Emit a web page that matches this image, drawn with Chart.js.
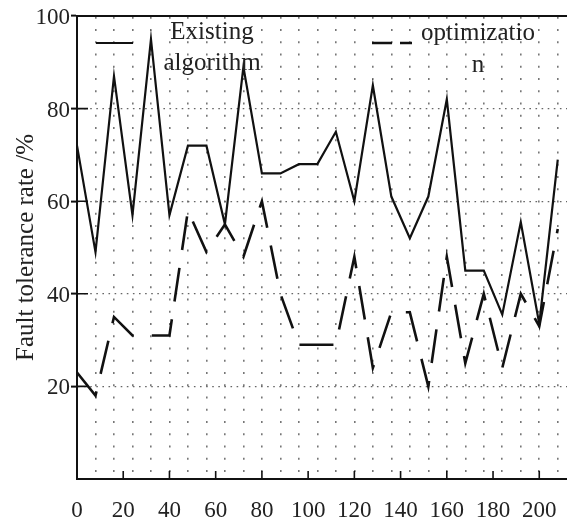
<!DOCTYPE html>
<html>
<head>
<meta charset="utf-8">
<script src="https://cdn.jsdelivr.net/npm/chart.js@4.4.1/dist/chart.umd.min.js"></script>
<style>
  html, body { margin: 0; padding: 0; background: #fff; }
  #chart { display: block; }
</style>
</head>
<body>
<canvas id="chart" width="567" height="521"></canvas>
<script>
// Valores
const xValues = [0, 8, 16, 24, 32, 40, 48, 56, 64, 72, 80, 88, 96, 104, 112, 120, 128, 136, 144, 152, 160, 168, 176, 184, 192, 200, 208];
const existingAlgorithm = [72, 49, 87, 57, 95, 57, 72, 72, 55, 89, 66, 66, 68, 68, 75, 60, 85, 61, 52, 61, 82, 45, 45, 35.5, 55.5, 33.5, 69];
const optimization = [23, 18, 35, 31, 31, 31, 58, 49, 55, 48, 60, 40, 29, 29, 29, 48, 24, 36, 36, 20, 48, 25, 40, 24, 40, 33, 54];
const xTickValues = [0, 20, 40, 60, 80, 100, 120, 140, 160, 180, 200];
const yTickValues = [0, 20, 40, 60, 80, 100];
const seriesNames = [['Existing', 'algorithm'], ['optimizatio', 'n']];
const yTitle = 'Fault tolerance rate /%';

const FONT = '"Liberation Serif", "Times New Roman", serif';
const INK = '#111';

function toPoints(values) {
    return xValues.map((x, i) => ({ x: x, y: values[i] }));
}

// Marco superior, marcas interiores y leyenda dibujada a mano
const frameAndLegend = {
    id: 'frameAndLegend',
    afterDraw(chart) {
        const ctx = chart.ctx;
        const area = chart.chartArea;
        const xs = chart.scales.x;
        const ys = chart.scales.y;
        ctx.save();
        ctx.strokeStyle = INK;
        ctx.lineWidth = 2;
        ctx.beginPath();
        ctx.moveTo(area.left - 1, area.top);
        ctx.lineTo(area.right, area.top);
        ctx.stroke();

        ctx.lineWidth = 1.6;
        ctx.beginPath();
        xTickValues.forEach(v => {
            if (v === 0) return;
            const px = xs.getPixelForValue(v);
            ctx.moveTo(px, area.bottom);
            ctx.lineTo(px, area.bottom - 8);
        });
        yTickValues.forEach(v => {
            if (v === 0 || v === 100) return;
            const py = ys.getPixelForValue(v);
            ctx.moveTo(area.left, py);
            ctx.lineTo(area.left + 11, py);
        });
        ctx.stroke();

        // leyenda
        ctx.lineWidth = 2.2;
        ctx.beginPath();
        ctx.moveTo(96, 43);
        ctx.lineTo(133, 43);
        ctx.stroke();

        ctx.lineWidth = 2.6;
        ctx.setLineDash([20, 8]);
        ctx.beginPath();
        ctx.moveTo(372, 43);
        ctx.lineTo(412, 43);
        ctx.stroke();
        ctx.setLineDash([]);

        ctx.fillStyle = '#222';
        ctx.font = '25px ' + FONT;
        ctx.textAlign = 'center';
        ctx.textBaseline = 'alphabetic';
        ctx.fillText(seriesNames[0][0], 212, 39);
        ctx.fillText(seriesNames[0][1], 212, 70);
        ctx.fillText(seriesNames[1][0], 478, 40);
        ctx.fillText(seriesNames[1][1], 478, 72);
        ctx.restore();
    }
};

// El área del gráfico llega hasta el borde derecho
function fixHorizontal(height) {
    return s => {
        s.height = height;
        s.paddingLeft = 0;
        s.paddingRight = 0;
    };
}

const chart = new Chart(document.getElementById('chart'), {
    type: 'line',
    data: {
        datasets: [
            {
                label: seriesNames[0].join(' '),
                data: toPoints(existingAlgorithm),
                borderColor: INK,
                borderWidth: 2.2,
                pointRadius: 0,
                tension: 0,
                fill: false
            },
            {
                label: seriesNames[1].join(''),
                data: toPoints(optimization),
                borderColor: INK,
                borderWidth: 2.6,
                borderDash: [34, 18],
                pointRadius: 0,
                tension: 0,
                fill: false
            }
        ]
    },
    options: {
        responsive: false,
        animation: false,
        devicePixelRatio: 1,
        layout: { padding: { top: 16, left: 0, right: 0, bottom: 0 } },
        plugins: {
            legend: { display: false },
            tooltip: { enabled: false }
        },
        scales: {
            x: {
                type: 'linear',
                position: 'bottom',
                min: 0,
                max: 212,
                afterFit: fixHorizontal(42),
                ticks: {
                    stepSize: 20,
                    includeBounds: false,
                    maxRotation: 0,
                    autoSkip: false,
                    padding: 18,
                    color: '#222',
                    font: { family: FONT, size: 23 }
                },
                grid: { display: false, drawTicks: false },
                border: { display: true, color: INK, width: 2 }
            },
            xg: {
                type: 'linear',
                position: 'bottom',
                min: 0,
                max: 212,
                afterFit: fixHorizontal(0),
                ticks: { display: false, stepSize: 8, includeBounds: false },
                grid: {
                    drawTicks: false,
                    lineWidth: 1.6,
                    color: c => (c.tick && c.tick.value === 0) ? 'rgba(0,0,0,0)' : '#777'
                },
                border: { display: false, dash: [2, 10.25], dashOffset: 11.4 }
            },
            y: {
                type: 'linear',
                min: 0,
                max: 100,
                afterFit: s => { s.width = 77; },
                ticks: {
                    stepSize: 20,
                    padding: 1,
                    labelOffset: 2,
                    color: '#222',
                    font: { family: FONT, size: 23 },
                    callback: v => v === 0 ? '' : String(v)
                },
                grid: {
                    lineWidth: 1.2,
                    color: c => (c.tick && (c.tick.value === 0 || c.tick.value === 100)) ? 'rgba(0,0,0,0)' : '#666',
                    tickLength: 6,
                    tickWidth: 2,
                    tickColor: c => (c.tick && c.tick.value === 0) ? 'rgba(0,0,0,0)' : INK
                },
                border: { display: true, color: INK, width: 2, dash: [1.6, 4.5] },
                title: {
                    display: true,
                    text: yTitle,
                    color: '#222',
                    font: { family: FONT, size: 25 },
                    padding: { top: 11, bottom: 0 }
                }
            }
        }
    },
    plugins: [frameAndLegend]
});
</script>
</body>
</html>
